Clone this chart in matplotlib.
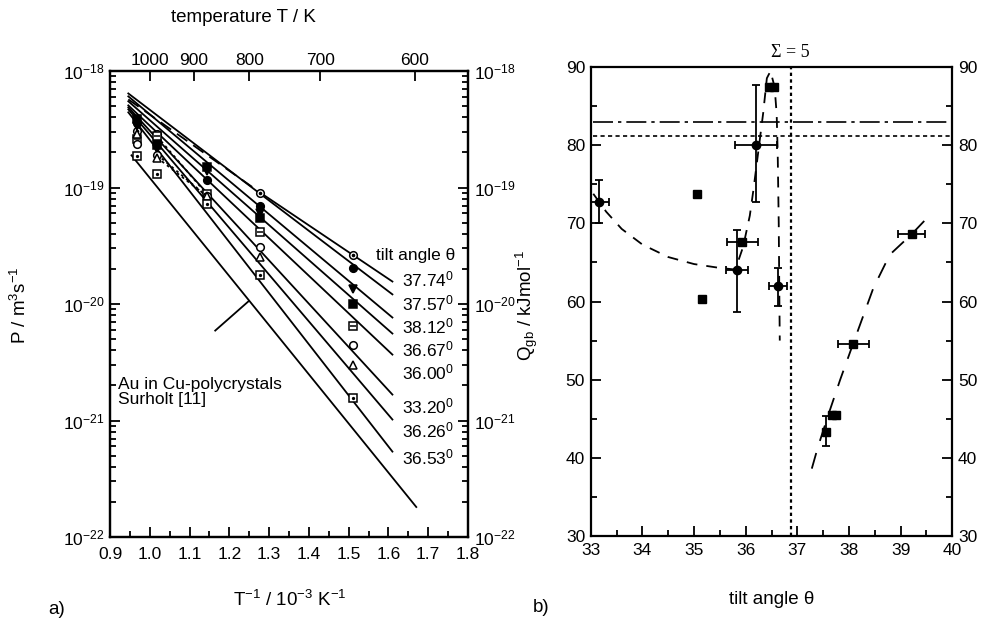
import numpy as np
import matplotlib
matplotlib.use("Agg")
import matplotlib.pyplot as plt
from matplotlib.ticker import LogLocator, MultipleLocator, NullFormatter, FixedLocator

# fonts: Helvetica-like text, mathtext in the same family
plt.rcParams['font.family'] = ['Liberation Sans', 'DejaVu Sans']
plt.rcParams['mathtext.fontset'] = 'custom'
plt.rcParams['mathtext.rm'] = 'Liberation Sans'
plt.rcParams['mathtext.it'] = 'Liberation Sans:italic'
plt.rcParams['mathtext.default'] = 'regular'
plt.rcParams['axes.linewidth'] = 1.6

# ---------------- panel a) : P vs 1/T ----------------
inv_T = [0.968, 1.018, 1.144, 1.278, 1.512]          # 10^-3 K^-1
tilt_labels = ['37.74', '37.57', '38.12', '36.67', '36.00', '33.20', '36.26', '36.53']

P_3774 = [3.03e-19, 2.86e-19, np.nan, 9.02e-20, 2.66e-20]
P_3757 = [3.56e-19, 2.49e-19, 1.17e-19, 6.89e-20, 2.05e-20]
P_3812 = [3.35e-19, 2.13e-19, 1.38e-19, 5.99e-20, 1.35e-20]
P_3667 = [3.85e-19, 2.30e-19, 1.49e-19, 5.43e-20, 9.91e-21]
P_3600 = [2.59e-19, 2.75e-19, 8.73e-20, 4.14e-20, 6.45e-21]
P_3320 = [2.35e-19, 1.92e-19, 8.39e-20, 3.10e-20, 4.48e-21]
P_3626 = [2.86e-19, 1.81e-19, 8.40e-20, 2.54e-20, 3.02e-21]
P_3653 = [1.85e-19, 1.30e-19, 7.16e-20, 1.76e-20, 1.56e-21]

# Arrhenius fit lines (start / end)
fit_x = [0.946, 1.61]
fit_P_start = [5.71e-19, 6.42e-19, 6.06e-19, 5.50e-19, 5.07e-19, 4.88e-19, 4.69e-19, 4.42e-19]
fit_P_end = [1.56e-20, 1.21e-20, 7.66e-21, 5.58e-21, 3.68e-21, 1.67e-21, 1.02e-21, 5.41e-22]

# Au in Cu polycrystals (Surholt)
surholt_x = [0.954, 1.670]
surholt_P = [1.89e-19, 1.81e-22]

# label positions of tilt angles (log P)
label_P = [1.62e-20, 1.01e-20, 6.41e-21, 4.07e-21, 2.58e-21, 1.32e-21, 8.20e-22, 4.81e-22]

temps_top = [1000, 900, 800, 700, 600]

# ---------------- panel b) : Q_gb vs tilt angle ----------------
# filled circles with error bars
th_circ = [33.17, 35.83, 36.20, 36.63]
Q_circ = [72.8, 64.1, 80.1, 62.0]
th_circ_err = [0.19, 0.21, 0.40, 0.17]
Q_circ_lo = [2.8, 5.4, 7.3, 2.6]
Q_circ_hi = [2.8, 5.1, 7.6, 2.3]

# filled squares with horizontal error bars
th_sq_x = [35.93, 38.08, 39.21]
Q_sq_x = [67.6, 54.6, 68.6]
th_sq_xerr = [0.30, 0.30, 0.26]

# filled square with vertical error bar
th_sq_y = [37.55]
Q_sq_y = [43.3]
Q_sq_ylo = [1.8]
Q_sq_yhi = [2.0]

# filled squares without error bars
th_sq = [35.05, 35.16, 36.46, 36.54, 37.67, 37.74]
Q_sq = [73.8, 60.3, 87.5, 87.5, 45.5, 45.5]

# dashed guide curves
curve1_th = [33.05, 33.3, 33.6, 34.0, 34.5, 35.0, 35.5, 35.8, 35.95, 36.08, 36.15,
             36.25, 36.34, 36.41, 36.48, 36.56, 36.60, 36.62, 36.64, 36.65, 36.66]
curve1_Q = [73.8, 71.5, 69.3, 67.3, 65.7, 64.8, 64.3, 64.1, 67.0, 71.0, 74.3,
            79.5, 84.2, 88.6, 89.5, 87.5, 84.0, 79.0, 70.0, 62.0, 55.0]
curve2_th = [37.28, 37.40, 37.60, 37.83, 38.08, 38.47, 38.79, 39.21, 39.54]
curve2_Q = [38.6, 41.4, 45.5, 50.0, 54.6, 61.7, 66.0, 68.6, 70.9]

Q_dashdot = 83.0
Q_dotted = 81.2
theta_sigma5 = 36.87

TICK_FS = 12.5
TEXT_FS = 12.5
LABEL_FS = 13.5


def draw_panel_a(ax):
    """left panel: diffusivity P vs inverse temperature"""
    series = [P_3774, P_3757, P_3812, P_3667, P_3600, P_3320, P_3626, P_3653]

    # fit lines
    for i in range(len(series)):
        if i == 0:
            # dashed in the high temperature part, solid afterwards
            ax.plot([fit_x[0], inv_T[3]], [fit_P_start[i], series[i][3]],
                    color='k', lw=1.3, ls=(0, (7, 4)))
            ax.plot([inv_T[3], fit_x[1]], [series[i][3], fit_P_end[i]],
                    color='k', lw=1.3)
        else:
            ax.plot(fit_x, [fit_P_start[i], fit_P_end[i]], color='k', lw=1.3)

    # dotted connections in the high temperature cluster
    for s in [P_3600, P_3320, P_3626]:
        ax.plot(inv_T[1:3], s[1:3], color='k', lw=1.3, ls=(0, (1.5, 2)))

    ax.plot(surholt_x, surholt_P, color='k', lw=1.3)

    ms = 5.5
    kw = dict(ls='none', color='k', mew=1.1)
    ax.plot(inv_T, P_3774, marker='o', mfc='white', ms=ms, **kw)
    ax.plot(inv_T, P_3774, marker='.', ms=3, **kw)
    ax.plot(inv_T, P_3757, marker='o', mfc='k', ms=ms, **kw)
    ax.plot(inv_T, P_3812, marker='v', mfc='k', ms=ms, **kw)
    ax.plot(inv_T, P_3667, marker='s', mfc='k', ms=ms, **kw)
    ax.plot(inv_T, P_3600, marker='s', mfc='white', ms=ms, **kw)
    ax.plot(inv_T, P_3600, marker='_', ms=4, **kw)
    ax.plot(inv_T, P_3320, marker='o', mfc='white', ms=ms, **kw)
    ax.plot(inv_T, P_3626, marker='^', mfc='white', ms=ms, **kw)
    ax.plot(inv_T, P_3653, marker='s', mfc='white', ms=ms, **kw)
    ax.plot(inv_T, P_3653, marker='.', ms=2.5, **kw)

    # tilt angle labels
    ax.text(1.568, 2.61e-20, 'tilt angle θ', fontsize=TEXT_FS, va='center', ha='left')
    for lab, p in zip(tilt_labels, label_P):
        ax.text(1.634, p, lab + '$^0$', fontsize=TEXT_FS, va='center', ha='left')

    ax.text(0.921, 1.77e-21, 'Au in Cu-polycrystals\nSurholt [11]',
            fontsize=TEXT_FS, va='center', ha='left', linespacing=1.0)
    ax.plot([1.1645, 1.2484], [10 ** -20.228, 10 ** -19.976], color='k', lw=1.3)

    ax.set_yscale('log')
    ax.set_xlim(0.9, 1.8)
    ax.set_ylim(1e-22, 1e-18)
    ax.xaxis.set_major_locator(MultipleLocator(0.1))
    ax.xaxis.set_minor_locator(MultipleLocator(0.05))
    ax.yaxis.set_minor_locator(LogLocator(base=10, subs=np.arange(2, 10), numticks=20))
    ax.yaxis.set_minor_formatter(NullFormatter())
    ax.set_yticks([1e-22, 1e-21, 1e-20, 1e-19, 1e-18])
    ax.set_yticklabels(['$10^{-22}$', '$10^{-21}$', '$10^{-20}$', '$10^{-19}$', '$10^{-18}$'])
    ax.set_xticks([0.9, 1.0, 1.1, 1.2, 1.3, 1.4, 1.5, 1.6, 1.7, 1.8])
    ax.set_xticklabels(['0.9', '1.0', '1.1', '1.2', '1.3', '1.4', '1.5', '1.6', '1.7', '1.8'])
    ax.tick_params(which='both', direction='in', left=True, right=True, labelright=True,
                   labelsize=TICK_FS, width=1.3)
    ax.tick_params(which='major', length=7, pad=4)
    ax.tick_params(which='minor', length=4)
    ax.tick_params(axis='x', which='major', pad=7)

    # top axis in temperature
    ax_top = ax.twiny()
    ax_top.set_xlim(ax.get_xlim())
    ax_top.xaxis.set_major_locator(FixedLocator([1000.0 / t for t in temps_top]))
    ax_top.set_xticklabels([str(t) for t in temps_top])
    ax_top.tick_params(direction='in', length=7, width=1.3, labelsize=TICK_FS, pad=2)
    ax_top.xaxis.set_minor_locator(FixedLocator([]))


def draw_panel_b(ax):
    """right panel: activation energy vs tilt angle"""
    ax.plot(curve1_th, curve1_Q, color='k', lw=1.3, ls=(0, (6, 5)))
    ax.plot(curve2_th, curve2_Q, color='k', lw=1.3, ls=(0, (9, 7)))

    ax.axhline(Q_dashdot, xmin=0.007, color='k', lw=1.2, ls=(0, (12, 3, 2, 3)))
    ax.axhline(Q_dotted, xmin=0.007, color='k', lw=1.2, ls=(0, (2.5, 2)))
    ax.axvline(theta_sigma5, color='k', lw=1.6, ls=(0, (1.5, 1.5)))

    ekw = dict(fmt='none', ecolor='k', elinewidth=1.3, capsize=3, capthick=1.3)
    ax.errorbar(th_circ, Q_circ, xerr=th_circ_err, yerr=[Q_circ_lo, Q_circ_hi], **ekw)
    ax.errorbar(th_sq_x, Q_sq_x, xerr=th_sq_xerr, **ekw)
    ax.errorbar(th_sq_y, Q_sq_y, yerr=[Q_sq_ylo, Q_sq_yhi], **ekw)

    ax.plot(th_circ, Q_circ, ls='none', marker='o', ms=6, color='k')
    ax.plot(th_sq_x, Q_sq_x, ls='none', marker='s', ms=5.5, color='k')
    ax.plot(th_sq_y, Q_sq_y, ls='none', marker='s', ms=5.5, color='k')
    ax.plot(th_sq, Q_sq, ls='none', marker='s', ms=5.5, color='k')

    ax.text(theta_sigma5, 90.8, 'Σ = 5', family=['Liberation Serif', 'DejaVu Serif'],
            fontsize=13, ha='center', va='bottom')

    ax.set_xlim(33, 40)
    ax.set_ylim(30, 90)
    ax.xaxis.set_major_locator(MultipleLocator(1))
    ax.xaxis.set_minor_locator(MultipleLocator(0.5))
    ax.yaxis.set_major_locator(MultipleLocator(10))
    ax.yaxis.set_minor_locator(MultipleLocator(5))
    ax.tick_params(which='both', direction='in', left=True, right=True, labelright=True,
                   labelsize=TICK_FS, width=1.3)
    ax.tick_params(which='major', length=7, pad=4)
    ax.tick_params(which='minor', length=4)
    ax.tick_params(axis='x', which='major', pad=5)


fig = plt.figure(figsize=(9.84, 6.23), dpi=100)
ax_a = fig.add_axes([0.1118, 0.138, 0.3638, 0.748])
ax_b = fig.add_axes([0.6003, 0.140, 0.3675, 0.752])

draw_panel_a(ax_a)
draw_panel_b(ax_b)

# labels placed in figure pixel coordinates of the reference
W, H = 984.0, 623.0
fig.text(243 / W, 1 - 17 / H, 'temperature T / K', fontsize=LABEL_FS, ha='center', va='center')
fig.text(290 / W, 1 - 600 / H, 'T$^{-1}$ / 10$^{-3}$ K$^{-1}$', fontsize=LABEL_FS, ha='center', va='center')
fig.text(772 / W, 1 - 599 / H, 'tilt angle θ', fontsize=LABEL_FS, ha='center', va='center')
fig.text(20 / W, 1 - 305 / H, 'P / m$^3$s$^{-1}$', fontsize=LABEL_FS, ha='center', va='center', rotation=90)
fig.text(527 / W, 1 - 305 / H, 'Q$_{gb}$ / kJmol$^{-1}$', fontsize=LABEL_FS, ha='center', va='center', rotation=90)
fig.text(57 / W, 1 - 609 / H, 'a)', fontsize=LABEL_FS, ha='center', va='center')
fig.text(541 / W, 1 - 608 / H, 'b)', fontsize=LABEL_FS, ha='center', va='center')

fig.savefig('out.png', dpi=100)
plt.close(fig)
